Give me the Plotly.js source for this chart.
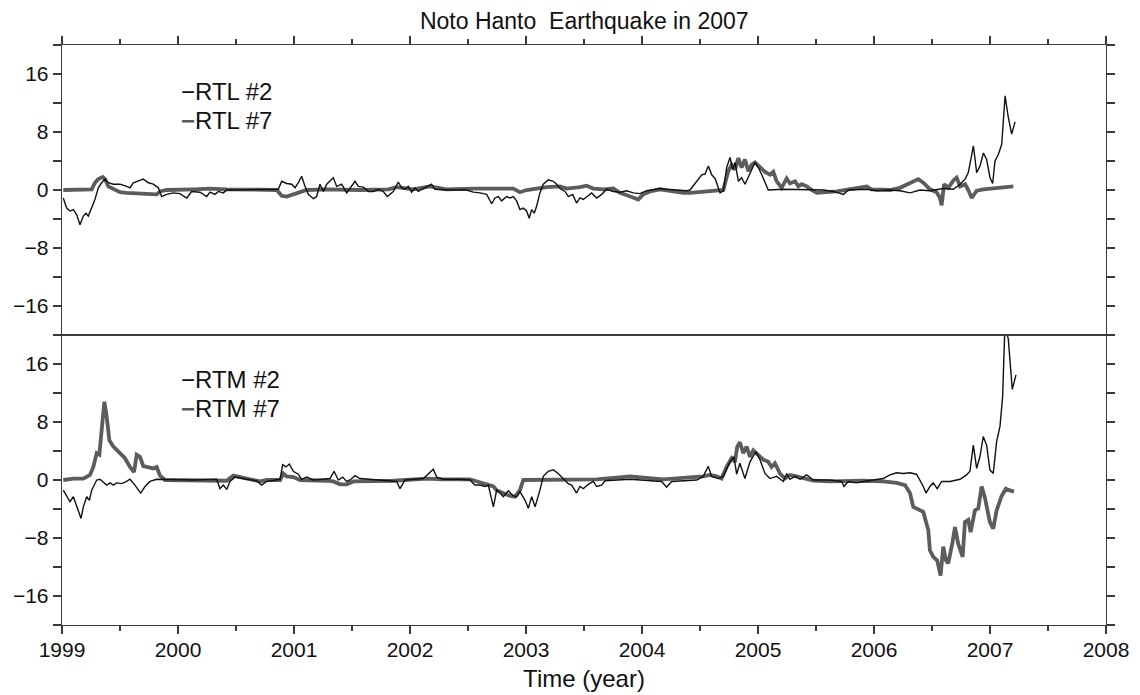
<!DOCTYPE html>
<html>
<head>
<meta charset="utf-8">
<script src="https://cdn.plot.ly/plotly-3.0.1.min.js"></script>
<style>html,body{margin:0;padding:0;background:#fff;}#chart{width:1140px;height:695px;}</style>
</head>
<body>
<div id="chart"></div>
<script>
// ---- Data (decimal years) ----
const rtl2_x = [1999.011,1999.040,1999.069,1999.098,1999.126,1999.155,1999.184,1999.207,1999.227,1999.256,1999.284,1999.313,1999.342,1999.371,1999.399,1999.443,1999.500,1999.557,1999.586,1999.615,1999.658,1999.701,1999.744,1999.787,1999.830,1999.859,1999.902,1999.960,2000.017,2000.075,2000.118,2000.190,2000.247,2000.276,2000.319,2000.348,2000.391,2000.420,2000.477,2000.649,2000.851,2000.865,2000.894,2000.937,2000.980,2001.009,2001.037,2001.066,2001.095,2001.123,2001.167,2001.195,2001.224,2001.253,2001.282,2001.310,2001.339,2001.368,2001.411,2001.454,2001.483,2001.526,2001.555,2001.598,2001.641,2001.684,2001.727,
 2001.770,2001.804,2001.856,2001.899,2001.928,2001.957,2001.985,2002.014,2002.043,2002.071,2002.115,2002.158,2002.186,2002.215,2002.316,2002.488,2002.546,2002.603,2002.661,2002.704,2002.732,2002.761,2002.790,2002.833,2002.862,2002.890,2002.919,2002.948,2002.977,2003.005,2003.028,2003.048,2003.071,2003.092,2003.120,2003.149,2003.192,2003.235,2003.264,2003.293,2003.336,2003.365,2003.402,2003.436,2003.465,2003.494,2003.523,2003.566,2003.609,2003.652,2003.695,2003.753,2003.810,2003.868,2003.925,2003.982,2004.040,2004.097,2004.155,2004.212,2004.270,2004.328,2004.385,
 2004.414,2004.471,2004.515,2004.543,2004.572,2004.601,2004.630,2004.673,2004.701,2004.730,2004.759,2004.782,2004.802,2004.831,2004.859,2004.888,2004.917,2004.946,2004.974,2005.003,2005.032,2005.061,2005.089,2005.219,2005.391,2005.563,2005.650,2005.736,2005.779,2005.937,2006.023,2006.138,2006.224,2006.311,2006.397,2006.483,2006.598,2006.684,2006.742,2006.785,2006.813,2006.833,2006.857,2006.885,2006.914,2006.943,2006.971,2007.000,2007.023,2007.043,2007.072,2007.101,2007.130,2007.158,2007.187,2007.216];
const rtl2_y = [-1.1,-2.5,-2.9,-2.7,-3.4,-4.8,-3.6,-3.2,-3.6,-2.5,-1.3,0.3,1.0,1.5,1.0,0.8,0.8,0.5,0.3,1.0,1.2,1.5,1.0,0.8,0.3,-0.9,-0.6,-0.4,-0.5,-1.1,-0.2,-0.3,-0.9,-0.3,-0.6,-0.2,-0.4,0,0,0,0,0.1,1.2,0.9,0.8,0.3,1.0,1.9,0.5,-0.6,-1.2,-0.9,0.8,-0.2,0.8,1.2,1.7,0.5,0.8,-0.4,0.3,1.2,0.5,0.4,-0.2,-0.2,0.1,
 -0.2,-0.9,-0.2,1.1,0.3,0.1,0.5,-0.3,0.3,-0.2,0.2,0.5,0.8,0.1,0,0,-0.3,-0.4,-0.6,-1.9,-1.1,-0.9,-1.5,-0.9,-1.1,-0.9,-1.5,-2.7,-2.5,-2.9,-3.9,-2.7,-3.2,-2.2,-0.4,0.8,1.4,1.2,0.8,0.2,-0.2,-0.9,-0.6,-1.8,-1.1,-1.3,-0.9,-0.4,-1.1,-0.6,0.1,-0.2,-0.3,-0.1,-0.4,-0.5,-0.1,0,0.2,0.1,0,-0.1,-0.1,
 0,1.2,2.1,2.2,3.3,2.1,1.6,-0.4,-0.1,3.1,4.5,2.8,3.8,1.2,1.7,0.8,1.7,2.8,3.8,3.1,2.1,1.0,0,0.1,0,0,-0.2,-0.6,0,0.1,-0.1,0,-0.1,-0.4,0,-0.1,0.2,0.1,0.8,1.5,2.4,4.0,6.1,2.4,3.3,5.1,4.2,1.7,0.9,4.0,4.9,6.3,13.0,10.0,7.7,9.4];

const rtl7_x = [1999.011,1999.241,1999.256,1999.284,1999.313,1999.351,1999.371,1999.399,1999.443,1999.500,1999.557,1999.701,1999.816,1999.845,1999.902,2000.132,2000.276,2000.420,2000.707,2000.851,2000.894,2000.937,2000.994,2001.052,2001.109,2001.282,2001.569,2001.813,2001.885,2002.028,2002.172,2002.316,2002.546,2002.890,2002.948,2003.005,2003.092,2003.178,2003.293,2003.350,2003.465,2003.523,2003.580,2003.666,2003.753,2003.810,2003.882,2003.925,2003.968,2004.011,2004.069,2004.155,2004.270,2004.356,2004.414,2004.529,2004.644,2004.701,2004.744,2004.773,2004.802,2004.831,2004.859,2004.888,2004.917,2004.946,2004.974,2005.017,2005.061,2005.104,2005.132,2005.161,2005.204,2005.247,2005.276,2005.319,2005.348,2005.377,2005.420,2005.463,2005.506,2005.678,2005.765,2005.851,2005.937,2005.980,2006.138,2006.224,2006.282,2006.339,2006.382,2006.425,2006.483,2006.540,2006.569,2006.583,2006.604,2006.641,2006.684,2006.713,2006.742,2006.785,2006.813,2006.842,2006.885,2006.943,2007.058,2007.130,2007.201];
const rtl7_y = [0,0,0.1,1.0,1.5,1.8,1.5,0.5,0.1,-0.3,-0.4,-0.5,-0.6,-0.2,0,0.1,0.2,0.1,0,0,-0.8,-0.9,-0.6,-0.3,0,0.1,0,0.1,0.4,0.1,0.5,0.1,0.2,0.2,-0.3,0,0.2,0.4,0.5,0.2,0.4,0.6,0.2,0.1,0.2,-0.4,-0.8,-1.1,-1.3,-0.6,-0.2,0.1,-0.2,-0.4,-0.4,-0.2,-0.1,0,2.6,3.5,2.8,4.4,3.1,4.2,2.6,3.5,3.8,3.1,2.5,2.1,2.5,1.2,0.3,1.6,0.9,1.2,0.5,0.8,0.5,0,-0.4,-0.2,0,0.2,0.5,0.1,0,0.3,0.7,1.2,1.5,1.0,0.1,-0.3,-1.1,-2.1,0.8,0.3,1.3,1.7,0.5,0.8,0,-1.1,-0.1,0.1,0.3,0.4,0.5];

const rtm2_x = [1999.011,1999.040,1999.069,1999.098,1999.126,1999.164,1999.184,1999.213,1999.236,1999.256,1999.299,1999.328,1999.356,1999.385,1999.414,1999.443,1999.471,1999.515,1999.557,1999.586,1999.629,1999.678,1999.716,1999.759,1999.816,2000.132,2000.333,2000.362,2000.391,2000.420,2000.448,2000.491,2000.592,2000.678,2000.721,2000.765,2000.880,2000.902,2000.931,2000.960,2000.994,2001.037,2001.066,2001.109,2001.167,2001.310,2001.345,2001.382,2001.420,2001.454,2001.483,2001.526,2001.569,2001.741,2001.885,2001.914,2001.957,2002.115,2002.158,2002.201,2002.230,2002.287,2002.431,2002.517,2002.560,2002.603,2002.647,2002.675,2002.719,2002.747,2002.776,2002.805,2002.848,2002.891,2002.920,2002.948,2002.992,2003.020,2003.049,2003.078,
 2003.120,2003.149,2003.192,2003.235,2003.278,2003.321,2003.364,2003.393,2003.436,2003.465,2003.494,2003.537,2003.580,2003.609,2003.652,2003.681,2003.896,2004.169,2004.212,2004.255,2004.471,2004.528,2004.571,2004.600,2004.658,2004.701,2004.758,2004.793,2004.816,2004.844,2004.887,2004.931,2004.982,2005.017,2005.060,2005.103,2005.160,2005.218,2005.247,2005.275,2005.319,2005.362,2005.419,2005.477,2005.620,2005.721,2005.741,2005.778,2005.850,2005.908,2006.023,2006.080,2006.137,2006.195,2006.252,2006.310,2006.367,2006.396,2006.425,2006.448,2006.482,2006.511,2006.545,2006.583,2006.655,2006.741,2006.798,2006.827,2006.856,2006.885,2006.913,2006.942,2006.971,2006.999,2007.028,2007.057,2007.086,2007.109,2007.129,2007.158,2007.192,2007.224];
const rtm2_y = [-1.4,-2.3,-3.0,-2.3,-3.5,-5.3,-3.7,-2.3,-2.8,-1.4,0,0.1,-0.3,-0.7,-0.4,-0.7,-0.4,-0.5,-0.2,0.1,-0.7,-1.8,-0.9,-0.2,0.1,0,0.1,-1.2,-0.7,-1.3,-0.2,0.4,0.1,-0.1,-0.7,-0.2,0.1,2.1,1.8,2.2,1.2,0.8,0.1,0.4,0,0.2,1.2,0,0.4,-0.2,0,0.6,0.2,0,-0.2,-1.2,0,0.2,0.9,1.5,0.4,0.1,0.1,0,-0.7,-0.7,-0.9,-0.7,-3.7,-1.4,-1.8,-2.3,-1.5,-2.2,-2.3,-1.6,-2.8,-3.9,-2.3,-3.7,
 -1.4,0.5,1.2,1.4,0.9,0.2,-0.5,-0.7,-1.8,-0.9,-1.2,-0.6,-0.2,-0.9,-0.7,-0.1,0.1,-0.2,-1.0,-0.2,0,0.5,1.9,0.5,0.2,0.5,2.5,3.2,0.8,2.3,0.2,2.5,3.9,2.8,0.9,0.2,0.5,-0.2,0.9,0.1,0.5,0.1,0.7,0,0,-0.2,-0.9,-0.2,-0.4,-0.2,0,0.2,0.7,1.0,0.9,1.0,0.8,0,-0.9,-1.8,-0.9,-0.4,-1.2,-0.2,-0.2,0.1,0.7,1.2,4.8,1.6,3.2,6.0,4.8,1.4,0.9,5.3,7.4,11.5,21.5,19.4,12.5,14.5];

const rtm7_x = [1999.011,1999.098,1999.184,1999.241,1999.270,1999.299,1999.322,1999.342,1999.365,1999.385,1999.408,1999.443,1999.500,1999.543,1999.586,1999.621,1999.644,1999.672,1999.701,1999.744,1999.787,1999.816,1999.845,1999.888,2000.362,2000.420,2000.477,2000.534,2000.649,2000.707,2000.765,2000.880,2000.908,2000.937,2000.994,2001.052,2001.282,2001.339,2001.397,2001.454,2001.511,2001.741,2001.856,2002.144,2002.287,2002.517,2002.603,2002.661,2002.719,2002.747,2002.805,2002.862,2002.905,2002.948,2002.977,2003.321,2003.609,2003.896,2004.183,2004.528,2004.586,2004.643,2004.686,2004.729,2004.773,2004.801,2004.821,2004.844,2004.873,2004.902,2004.931,2004.959,2004.988,2005.046,2005.089,2005.117,2005.146,2005.189,2005.232,2005.275,2005.333,2005.405,2005.477,2005.620,2005.908,2006.080,2006.195,2006.267,2006.310,2006.339,2006.396,2006.425,2006.468,2006.482,2006.511,2006.545,2006.574,2006.597,2006.620,2006.640,2006.678,2006.698,2006.726,2006.764,2006.784,2006.813,2006.833,2006.870,2006.899,2006.928,2006.957,2006.999,2007.028,2007.057,2007.100,2007.137,2007.166,2007.207];
const rtm7_y = [0,0.2,0.2,0.7,1.8,3.7,3.5,6.9,10.8,8.8,5.5,4.6,3.7,3.0,1.8,1.1,3.5,3.2,1.9,1.8,1.6,1.8,0.6,0,0,-0.1,0.6,0.4,-0.1,-0.2,0,0,0.9,0.5,0.4,0,-0.1,-0.2,-0.6,-0.6,-0.2,-0.2,-0.1,0.2,0.1,0.1,-0.3,-0.6,-0.9,-1.4,-1.8,-2.2,-2.3,-1.4,0,0.1,0.1,0.5,0.1,0.5,0.7,0.5,0.2,1.8,3.0,2.5,4.6,5.2,3.7,4.6,3.2,4.1,3.7,2.8,2.5,1.8,2.3,0.9,0.2,0.7,0.5,0.2,-0.1,-0.2,-0.1,-0.2,-0.4,-0.7,-1.8,-3.7,-4.2,-4.4,-6.9,-9.7,-10.6,-11.1,-13.2,-9.2,-11.1,-11.5,-8.5,-6.5,-8.8,-10.6,-5.8,-5.5,-7.2,-4.2,-3.9,-0.9,-2.5,-5.8,-6.7,-4.2,-2.2,-1.2,-1.4,-1.6];

const seriesNames = ['RTL #2', 'RTL #7', 'RTM #2', 'RTM #7'];
const titleText = 'Noto Hanto\u00a0\u00a0Earthquake in 2007';
const xTitle = 'Time (year)';

// ---- Styles ----
const BLACK = '#111111', GRAY = '#5c5c5c', AX = '#3a3a3a';
const FONT = '"Liberation Sans", Arial, Helvetica, sans-serif';

const traces = [
  {x: rtl7_x, y: rtl7_y, xaxis: 'x2', yaxis: 'y2', name: seriesNames[1], mode: 'lines', line: {color: GRAY, width: 3.8}},
  {x: rtl2_x, y: rtl2_y, xaxis: 'x2', yaxis: 'y2', name: seriesNames[0], mode: 'lines', line: {color: BLACK, width: 1.4}},
  {x: rtm7_x, y: rtm7_y, xaxis: 'x', yaxis: 'y', name: seriesNames[3], mode: 'lines', line: {color: GRAY, width: 3.8}},
  {x: rtm2_x, y: rtm2_y, xaxis: 'x', yaxis: 'y', name: seriesNames[2], mode: 'lines', line: {color: BLACK, width: 1.4}}
];

const xBase = {
  range: [1999, 2008], tick0: 1999, dtick: 1, ticks: 'outside', ticklen: 8, tickwidth: 1.3, tickcolor: AX,
  showline: true, linecolor: AX, linewidth: 1.3, mirror: true, showgrid: false, zeroline: false,
  minor: {dtick: 0.5, tick0: 1999, ticks: 'outside', ticklen: 5, tickwidth: 1.2, tickcolor: AX, showgrid: false},
  tickfont: {size: 21, color: '#111'}, ticklabelstandoff: -3
};
const yBase = {
  range: [-20, 20], tick0: 0, dtick: 8, ticks: 'outside', ticklen: 8, tickwidth: 1.3, tickcolor: AX,
  showline: true, linecolor: AX, linewidth: 1.3, mirror: 'ticks', showgrid: false, zeroline: false,
  minor: {dtick: 4, tick0: 0, ticks: 'outside', ticklen: 8, tickwidth: 1.2, tickcolor: AX, showgrid: false},
  tickfont: {size: 21, color: '#111'}
};

function legendNote(label, y, thick) {
  const dash = thick ? '<span style="color:' + GRAY + '"><b>\u2212</b></span>' : '\u2212';
  return {xref: 'paper', yref: 'paper', x: 0.112, y: y, xanchor: 'left', yanchor: 'middle',
          text: dash + label, showarrow: false, font: {size: 24, color: '#111'}};
}

const layout = {
  width: 1140, height: 695,
  margin: {l: 62, r: 34, t: 45, b: 70},
  paper_bgcolor: '#ffffff', plot_bgcolor: '#ffffff',
  font: {family: FONT, size: 20, color: '#111'},
  showlegend: false,
  title: {text: titleText, font: {size: 23, color: '#111'}, x: 0.5125, xanchor: 'center', y: 0.970, yref: 'container', yanchor: 'middle'},
  xaxis: Object.assign({}, xBase, {anchor: 'y', domain: [0, 1], side: 'bottom',
    title: {text: xTitle, font: {size: 24, color: '#111'}, standoff: 10}}),
  xaxis2: Object.assign({}, xBase, {anchor: 'y2', domain: [0, 1], side: 'top', matches: 'x', showticklabels: false}),
  yaxis: Object.assign({}, yBase, {anchor: 'x', domain: [0, 0.5]}),
  yaxis2: Object.assign({}, yBase, {anchor: 'x2', domain: [0.5, 1]}),
  annotations: [
    legendNote(seriesNames[0], 0.919, false),
    legendNote(seriesNames[1], 0.869, true),
    legendNote(seriesNames[2], 0.424, false),
    legendNote(seriesNames[3], 0.374, true)
  ]
};

Plotly.newPlot('chart', traces, layout, {displayModeBar: false, staticPlot: true});
</script>
</body>
</html>
